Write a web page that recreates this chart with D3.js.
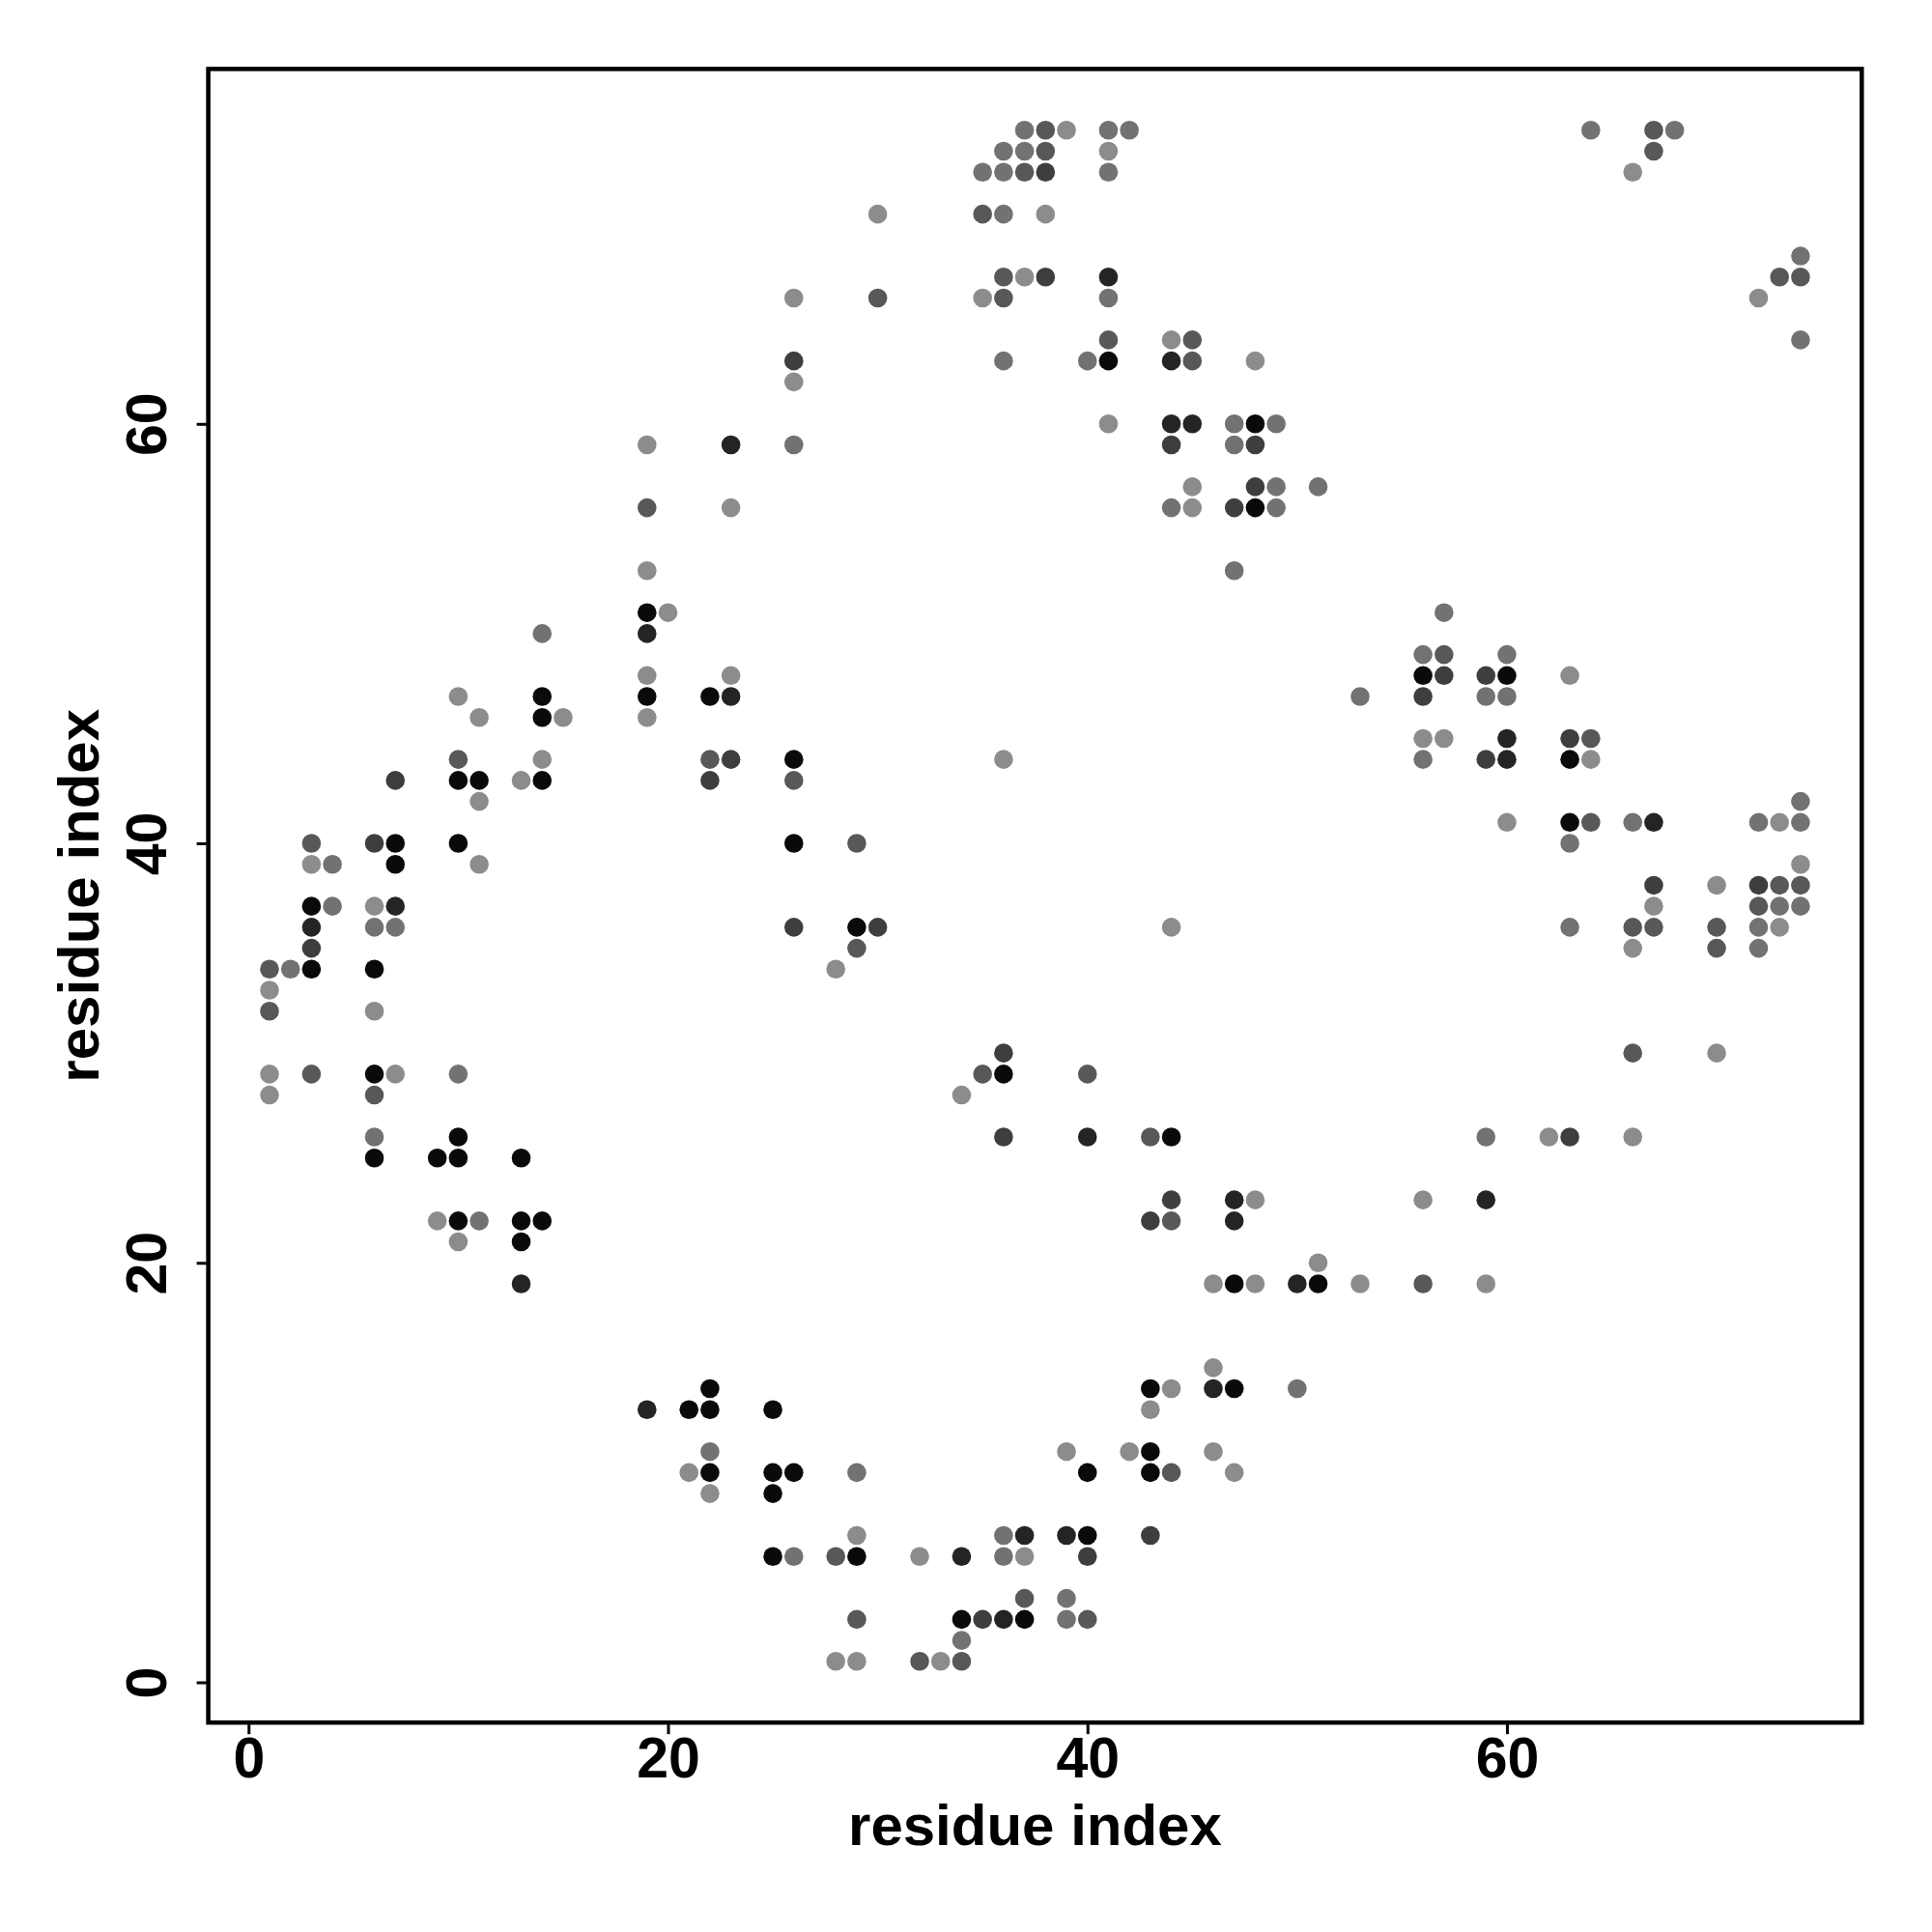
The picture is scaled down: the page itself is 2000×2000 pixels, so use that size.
<!DOCTYPE html>
<html>
<head>
<meta charset="utf-8">
<script src="https://cdn.jsdelivr.net/npm/d3@7"></script>
<style>
  html, body { margin: 0; padding: 0; background: #ffffff; }
  svg text { font-family: "Liberation Sans", Arial, Helvetica, sans-serif; font-weight: bold; }
</style>
</head>
<body>
<svg id="chart" width="2000" height="2000"></svg>
<script>
// residue pairs [i, j, contact strength level 1 (weak, light) .. 6 (strong, black)]
const contacts = [
  [1,34,3],[1,33,1],[1,32,3],[1,29,1],[1,28,1],
  [2,34,2],
  [3,40,3],[3,39,1],[3,37,6],[3,36,5],[3,35,4],[3,34,6],[3,29,3],
  [4,39,2],[4,37,2],
  [6,40,4],[6,37,1],[6,36,2],[6,34,6],[6,32,1],[6,29,6],[6,28,3],[6,26,2],[6,25,6],
  [7,43,4],[7,40,6],[7,39,6],[7,37,5],[7,36,2],[7,29,1],
  [9,25,6],[9,22,1],
  [10,47,1],[10,44,3],[10,43,6],[10,40,6],[10,29,2],[10,26,6],[10,25,6],[10,22,6],[10,21,1],
  [11,46,1],[11,43,6],[11,42,1],[11,39,1],[11,22,2],
  [13,43,1],[13,25,6],[13,22,6],[13,21,6],[13,19,5],
  [14,50,2],[14,47,6],[14,46,6],[14,44,1],[14,43,6],[14,22,6],
  [15,46,1],
  [19,59,1],[19,56,3],[19,53,1],[19,51,6],[19,50,5],[19,48,1],[19,47,6],[19,46,1],[19,13,5],
  [20,51,1],
  [21,13,6],[21,10,1],
  [22,47,6],[22,44,3],[22,43,4],[22,14,6],[22,13,6],[22,11,2],[22,10,6],[22,9,1],
  [23,59,5],[23,56,1],[23,48,1],[23,47,5],[23,44,4],
  [25,13,6],[25,10,6],[25,9,6],[25,6,6],
  [26,66,1],[26,63,4],[26,62,1],[26,59,2],[26,44,6],[26,43,3],[26,40,6],[26,36,4],[26,10,6],[26,6,2],
  [28,34,1],[28,6,3],[28,1,1],
  [29,40,3],[29,36,6],[29,35,3],[29,10,2],[29,7,1],[29,6,6],[29,3,3],[29,1,1],
  [30,70,1],[30,66,3],[30,36,4],
  [32,6,1],[32,1,3],
  [33,1,1],
  [34,28,1],[34,6,5],[34,3,6],[34,2,2],[34,1,3],
  [35,72,2],[35,70,3],[35,66,1],[35,29,3],[35,3,4],
  [36,73,2],[36,72,2],[36,70,2],[36,67,3],[36,66,3],[36,63,2],[36,44,1],[36,30,4],[36,29,6],[36,26,4],[36,7,2],[36,6,2],[36,3,5],
  [37,74,2],[37,73,2],[37,72,3],[37,67,1],[37,7,5],[37,6,1],[37,4,3],[37,3,6],
  [38,74,3],[38,73,3],[38,72,4],[38,70,1],[38,67,4],
  [39,74,1],[39,11,1],[39,7,5],[39,4,2],[39,3,2],
  [40,63,2],[40,29,3],[40,26,5],[40,10,6],[40,7,6],[40,6,4],[40,3,3],
  [41,74,2],[41,73,1],[41,72,2],[41,67,5],[41,66,2],[41,64,3],[41,63,6],[41,60,1],
  [42,74,2],[42,11,1],
  [43,26,3],[43,22,4],[43,14,6],[43,13,1],[43,11,6],[43,10,6],[43,7,4],
  [44,64,1],[44,63,5],[44,60,5],[44,59,4],[44,56,2],[44,36,1],[44,26,6],[44,23,4],[44,22,3],[44,14,1],[44,10,3],
  [45,64,3],[45,63,3],[45,60,5],[45,57,1],[45,56,1],
  [46,19,1],[46,15,1],[46,14,5],[46,11,1],
  [47,60,2],[47,59,2],[47,56,4],[47,53,2],[47,23,5],[47,22,5],[47,19,6],[47,14,6],[47,10,1],
  [48,63,1],[48,60,6],[48,59,4],[48,57,4],[48,56,6],[48,23,1],[48,19,1],
  [49,60,2],[49,57,2],[49,56,2],
  [50,19,5],[50,14,2],
  [51,57,2],[51,20,1],[51,19,6],
  [53,47,2],[53,19,1],
  [56,49,2],[56,48,6],[56,47,4],[56,45,1],[56,44,2],[56,23,1],[56,19,3],
  [57,51,2],[57,49,3],[57,48,4],[57,45,1],
  [59,48,4],[59,47,2],[59,44,4],[59,26,2],[59,23,5],[59,19,1],
  [60,49,2],[60,48,6],[60,47,2],[60,45,5],[60,44,5],[60,41,1],
  [62,26,1],
  [63,48,1],[63,45,4],[63,44,6],[63,41,6],[63,40,2],[63,36,2],[63,26,4],
  [64,74,2],[64,45,3],[64,44,1],[64,41,3],
  [66,72,1],[66,41,2],[66,36,3],[66,35,1],[66,30,3],[66,26,1],
  [67,74,3],[67,73,3],[67,41,5],[67,38,4],[67,37,1],[67,36,3],
  [68,74,2],
  [70,38,1],[70,36,3],[70,35,3],[70,30,1],
  [72,66,1],[72,41,2],[72,38,4],[72,37,3],[72,36,2],[72,35,2],
  [73,67,3],[73,41,1],[73,38,3],[73,37,2],[73,36,1],
  [74,68,2],[74,67,3],[74,64,2],[74,42,2],[74,41,2],[74,39,1],[74,38,3],[74,37,2]
];
const xTicks = [0, 20, 40, 60];
const yTicks = [0, 20, 40, 60];
const xLabel = "residue index";
const yLabel = "residue index";

const svg = d3.select("#chart");
const box = { left: 215.6, right: 1927.3, top: 71.4, bottom: 1783.2 };

const x = d3.scaleLinear().domain([-1.92, 76.92]).range([box.left, box.right]);
const y = d3.scaleLinear().domain([-1.92, 76.92]).range([box.bottom, box.top]);
const shade = d3.scaleLinear().domain([1, 6]).range(["#8c8c8c", "#0a0a0a"]);

svg.append("rect").attr("x", 0).attr("y", 0).attr("width", 2000).attr("height", 2000).attr("fill", "#fff");

// points
svg.append("g").selectAll("circle").data(contacts).join("circle")
  .attr("cx", d => x(d[0]))
  .attr("cy", d => y(d[1]))
  .attr("r", 9.8)
  .attr("fill", d => shade(d[2]));

// box
svg.append("rect")
  .attr("x", box.left).attr("y", box.top)
  .attr("width", box.right - box.left).attr("height", box.bottom - box.top)
  .attr("fill", "none").attr("stroke", "#000").attr("stroke-width", 4.5);

// x axis
const xAxis = d3.axisBottom(x).tickValues(xTicks).tickSize(12).tickPadding(6).tickFormat(d3.format("d"));
const gx = svg.append("g").attr("transform", `translate(0,${box.bottom})`).call(xAxis);
gx.select(".domain").remove();
gx.selectAll(".tick line").attr("stroke", "#000").attr("stroke-width", 3);
gx.selectAll(".tick text").attr("font-size", 59).attr("fill", "#000")
  .attr("dy", null).attr("y", 57);

// y axis (rotated labels)
const yAxis = d3.axisLeft(y).tickValues(yTicks).tickSize(12).tickFormat(d3.format("d"));
const gy = svg.append("g").attr("transform", `translate(${box.left},0)`).call(yAxis);
gy.select(".domain").remove();
gy.selectAll(".tick line").attr("stroke", "#000").attr("stroke-width", 3);
gy.selectAll(".tick text").attr("font-size", 59).attr("fill", "#000")
  .attr("x", null).attr("dy", null)
  .attr("text-anchor", "middle")
  .attr("transform", "translate(-44,0) rotate(-90)");

// axis titles
svg.append("text")
  .attr("x", (box.left + box.right) / 2).attr("y", 1910)
  .attr("text-anchor", "middle").attr("font-size", 60).attr("fill", "#000")
  .text(xLabel);
svg.append("text")
  .attr("transform", `translate(102,${(box.top + box.bottom) / 2}) rotate(-90)`)
  .attr("text-anchor", "middle").attr("font-size", 60).attr("fill", "#000")
  .text(yLabel);
</script>
</body>
</html>
